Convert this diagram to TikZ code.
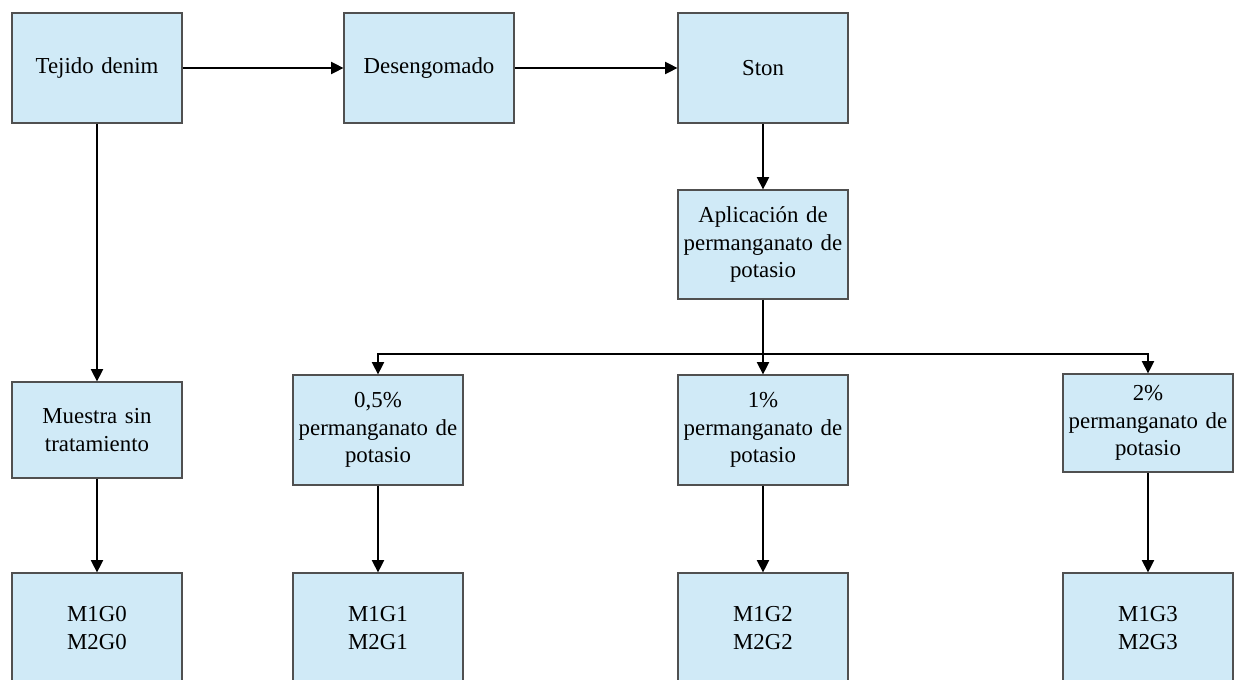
\documentclass[tikz,border=0pt]{standalone}
\usepackage{fontspec}
\setmainfont{Liberation Serif}
\usetikzlibrary{arrows.meta}
\definecolor{boxblue}{RGB}{208,234,247}
\definecolor{boxline}{RGB}{80,80,80}
\begin{document}
\begin{tikzpicture}[x=0.02cm, y=-0.02cm,
  proc/.style={draw=boxline, fill=boxblue, line width=0.7pt,
    minimum width=3.4cm, minimum height=2.2cm, text width=3.3cm,
    align=center, inner sep=1pt, font=\fontsize{13}{15.6}\selectfont},
  flow/.style={-{Triangle[length=7pt,width=7pt]}, line width=0.6pt}]

  \useasboundingbox (0,0) rectangle (1236,679);
  \clip (0,0) rectangle (1236,679);

  %% first row
  \node[proc] (tejido) at (97,68)  {Tejido denim};
  \node[proc] (deseng) at (429,68) {Desengomado};
  \node[proc] (ston)   at (763,68) {Ston};

  \node[proc, minimum height=2.18cm] (aplic) at (763,244.5)
    {Aplicación de\\permanganato de\\potasio};
  \coordinate (split) at (763,354);

  %% second row
  \node[proc, minimum height=1.92cm] (sin) at (97,430)
    {Muestra sin\\tratamiento};
  \node[proc] (p05) at (378,430)  {0,5\%\\permanganato de\\potasio};
  \node[proc] (p10) at (763,430)  {1\%\\permanganato de\\potasio};
  \node[proc, minimum height=1.96cm] (p20) at (1148,423)
    {2\%\\permanganato de\\potasio};

  %% samples
  \node[proc] (g0) at (97,628)   {M1G0\\M2G0};
  \node[proc] (g1) at (378,628)  {M1G1\\M2G1};
  \node[proc] (g2) at (763,628)  {M1G2\\M2G2};
  \node[proc] (g3) at (1148,628) {M1G3\\M2G3};

  \draw[flow] (tejido) -- (deseng);
  \draw[flow] (deseng) -- (ston);
  \draw[flow] (ston) -- (aplic);
  \draw[flow] (tejido) -- (sin);
  \draw[flow] (aplic) -- (p10);
  \draw[flow] (split) -| (p05.north);
  \draw[flow] (split) -| (p20.north);

  \draw[flow] (sin) -- (g0);
  \draw[flow] (p05) -- (g1);
  \draw[flow] (p10) -- (g2);
  \draw[flow] (p20) -- (g3);

\end{tikzpicture}
\end{document}
